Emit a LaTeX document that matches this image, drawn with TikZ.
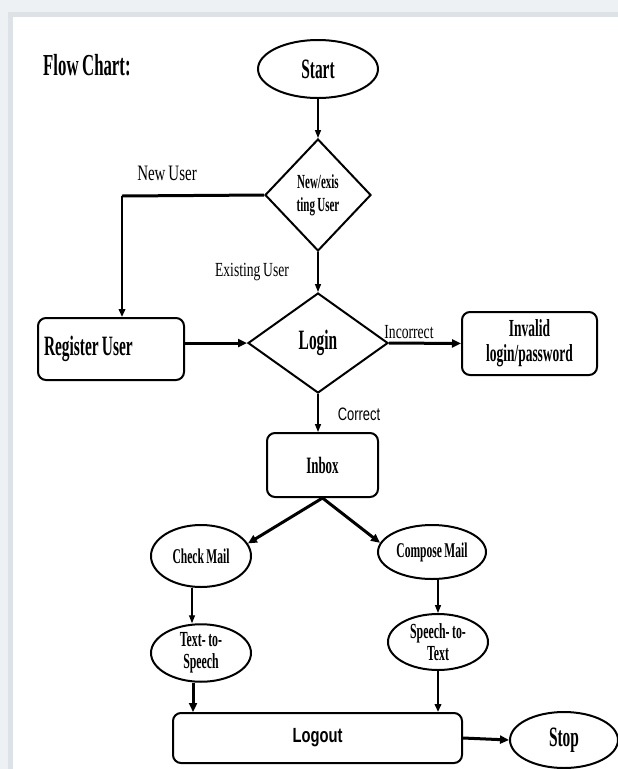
\documentclass[tikz,border=0pt]{standalone}
\usepackage{fontspec}
\setmainfont{Liberation Serif}
\newfontfamily\bcond[FakeStretch=0.55,WordSpace=0.85]{Liberation Serif}
\newfontfamily\rcond[FakeStretch=0.68,WordSpace=0.8]{Liberation Serif}
\newfontfamily\scond[FakeStretch=0.72]{Liberation Sans}
\usetikzlibrary{shapes.geometric,arrows.meta}
\definecolor{bgout}{HTML}{EEF1F3}
\definecolor{bgline}{HTML}{DCE2E5}
\tikzset{
  shp/.style={draw, line width=2pt, inner sep=0pt, align=center, text=black},
  ell/.style={shp, ellipse},
  dia/.style={shp, diamond},
  rbox/.style={shp, rectangle, rounded corners=8pt},
  tarr/.style={line width=1.4pt, -{Triangle[length=8pt,width=6pt]}},
  marr/.style={line width=2pt, -{Triangle[length=8pt,width=6.5pt]}},
  barr/.style={line width=3pt, -{Triangle[length=9pt,width=8pt]}},
  fbig/.style={font=\bcond\bfseries\fontsize{28}{30}\selectfont},
  fmid/.style={font=\bcond\bfseries\fontsize{21}{22}\selectfont},
  lbl/.style={inner sep=0pt, text=black},
}
\begin{document}
\begin{tikzpicture}[x=1pt,y=-1pt]
\useasboundingbox (0,0) rectangle (618,769);
% background frame
\fill[bgout] (0,0) rectangle (618,769);
\fill[bgline] (8,12) rectangle (618,769);
\fill[white] (13,17) rectangle (618,769);

\node[lbl, anchor=west, font=\bcond\bfseries\fontsize{30.5}{32}\selectfont] (title) at (43,65) {Flow Chart:};

\node[ell, fbig, minimum width=120pt, minimum height=58pt] (start) at (318,69) {Start};
\node[dia, font=\bcond\bfseries\fontsize{20}{23}\selectfont, minimum width=106pt, minimum height=112pt] (q1) at (318,195) {New/exis\\ting User};
\node[dia, fbig, minimum width=140pt, minimum height=100pt] (login) at (318,343) {Login};
\node[rbox, fbig, minimum width=146pt, minimum height=62pt] (register) at (111,349) {\makebox[134pt][l]{Register User}};
\node[rbox, font=\bcond\bfseries\fontsize{24.5}{25}\selectfont, minimum width=135pt, minimum height=63pt] (invalid) at (529.5,343.5) {Invalid\\login/password};
\node[rbox, font=\bcond\bfseries\fontsize{23.5}{25}\selectfont, minimum width=111pt, minimum height=64pt] (inbox) at (322.5,465) {Inbox};
\node[ell, fmid, minimum width=100pt, minimum height=62pt] (check) at (201,556) {\raisebox{-5pt}{Check Mail}};
\node[ell, fmid, minimum width=108pt, minimum height=54pt] (compose) at (432,552) {Compose Mail};
\node[ell, font=\bcond\bfseries\fontsize{21.5}{22}\selectfont, minimum width=100pt, minimum height=54pt] (tts) at (201,653) {Text- to-\\Speech};
\node[ell, font=\bcond\bfseries\fontsize{21.5}{22}\selectfont, minimum width=100pt, minimum height=56pt] (stt) at (438,642) {Speech- to-\\Text};
\node[rbox, font=\scond\bfseries\fontsize{20.5}{22}\selectfont, minimum width=289pt, minimum height=50pt] (logout) at (317.5,738) {Logout};
\node[ell, fbig, minimum width=108pt, minimum height=56pt] (stop) at (564,740) {\raisebox{-3pt}{Stop}};

% labels
\node[lbl, font=\rcond\fontsize{22}{24}\selectfont] (lnew) at (167,173) {New User};
\node[lbl, font=\rcond\fontsize{20}{22}\selectfont] (lexist) at (252,272) {Existing User};
\node[lbl, font=\rcond\fontsize{20}{22}\selectfont] (linc) at (409,332) {Incorrect};
\node[lbl, font=\scond\fontsize{18}{20}\selectfont] (lcor) at (359,414) {Correct};

% connectors
\coordinate (nu) at (122,196);
\draw[tarr] (start.south) -- (q1.north);
\draw[line width=3pt] (q1.west) -- (nu);
\draw[marr] (nu) -- (nu |- register.north);
\draw[tarr] (q1.south) -- (login.north);
\draw[barr] (register.east |- login.west) -- (login.west);
\draw[barr] (login.east) -- (invalid.west);
\draw[tarr] (login.south) -- (login.south |- inbox.north);
\draw[barr] (inbox.south) -- (check.15);
\draw[barr] (inbox.south) -- (compose.170);
\draw[tarr] ([xshift=-9pt]check.south) -- ([xshift=-9pt]tts.north);
\draw[tarr] (compose.south -| stt.north) -- (stt.north);
\draw[barr] ([xshift=-8pt]tts.south) -- ([xshift=-8pt]tts.south |- logout.north);
\draw[marr] (stt.south) -- (stt.south |- logout.north);
\draw[barr] (logout.east) -- (stop.west);
\end{tikzpicture}
\end{document}
